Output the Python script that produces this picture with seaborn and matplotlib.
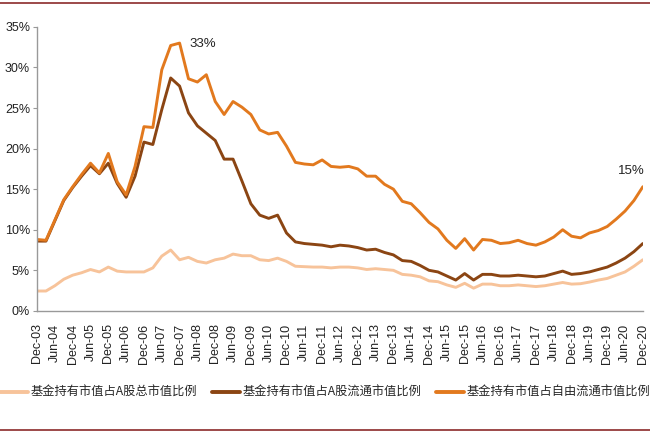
import numpy as np
import pandas as pd
import matplotlib
matplotlib.use("Agg")
import matplotlib.pyplot as plt
from matplotlib.lines import Line2D
import seaborn as sns

# quarterly dates Dec-03 .. Dec-20
quarters = []
for y in range(2003, 2021):
    for m in ["Mar", "Jun", "Sep", "Dec"]:
        if y == 2003 and m != "Dec":
            continue
        quarters.append(f"{m}-{str(y)[2:]}")

total_share = [2.45, 2.45, 3.1, 3.9, 4.4, 4.7, 5.1, 4.8, 5.4, 4.9, 4.8, 4.8, 4.8, 5.3,
               6.75, 7.5, 6.3, 6.6, 6.1, 5.9, 6.3, 6.5, 7.0, 6.8, 6.8, 6.3, 6.2, 6.5,
               6.1, 5.5, 5.45, 5.4, 5.4, 5.3, 5.4, 5.4, 5.3, 5.1, 5.2, 5.1, 5.0, 4.5,
               4.4, 4.2, 3.7, 3.6, 3.2, 2.9, 3.4, 2.8, 3.3, 3.3, 3.1, 3.1, 3.2, 3.1,
               3.0, 3.1, 3.3, 3.5, 3.3, 3.35, 3.55, 3.8, 4.0, 4.4, 4.8, 5.5, 6.3]

float_share = [8.6, 8.6, 11.1, 13.6, 15.2, 16.6, 17.9, 16.9, 18.2, 15.7, 14.0, 16.6, 20.8, 20.5,
               24.8, 28.7, 27.7, 24.4, 22.8, 21.9, 21.0, 18.7, 18.7, 16.0, 13.2, 11.8, 11.4, 11.8,
               9.6, 8.5, 8.3, 8.2, 8.1, 7.9, 8.1, 8.0, 7.8, 7.5, 7.6, 7.2, 6.9, 6.2,
               6.1, 5.6, 5.0, 4.8, 4.3, 3.8, 4.6, 3.8, 4.5, 4.5, 4.3, 4.3, 4.4, 4.3,
               4.2, 4.3, 4.6, 4.9, 4.5, 4.6, 4.8, 5.1, 5.4, 5.9, 6.5, 7.3, 8.3]

freefloat_share = [8.8, 8.7, 11.2, 13.7, 15.3, 16.8, 18.2, 17.0, 19.4, 15.9, 14.3, 17.8, 22.7, 22.6,
                   29.7, 32.7, 33.0, 28.6, 28.2, 29.1, 25.8, 24.2, 25.8, 25.1, 24.2, 22.3, 21.8, 22.0,
                   20.3, 18.3, 18.1, 18.0, 18.6, 17.8, 17.7, 17.8, 17.5, 16.6, 16.6, 15.6, 15.0, 13.5,
                   13.2, 12.1, 10.9, 10.1, 8.7, 7.7, 8.9, 7.5, 8.8, 8.7, 8.3, 8.4, 8.7, 8.3,
                   8.1, 8.5, 9.1, 10.0, 9.2, 9.0, 9.6, 9.9, 10.4, 11.3, 12.3, 13.6, 15.3]

series_names = ["基金持有市值占A股总市值比例", "基金持有市值占A股流通市值比例", "基金持有市值占自由流通市值比例"]
series_colors = ["#F7C39A", "#8B4513", "#E2791E"]

yticks = [0, 5, 10, 15, 20, 25, 30, 35]
annotations = [("33%", 18.6, 32.9), ("15%", 66.7, 17.2)]

n = len(quarters)
df = pd.DataFrame({
    "idx": np.tile(np.arange(n), 3),
    "value": total_share + float_share + freefloat_share,
    "series": np.repeat(series_names, n),
})

sns.set_theme(style="white")
plt.rcParams["font.family"] = ["Liberation Sans", "Noto Sans CJK SC", "DejaVu Sans"]

fig = plt.figure(figsize=(6.5, 4.33), dpi=100)
ax = fig.add_axes([0.057, 0.282, 0.932, 0.656])

sns.lineplot(data=df, x="idx", y="value", hue="series", hue_order=series_names,
             palette=dict(zip(series_names, series_colors)), linewidth=2.1, ax=ax,
             legend=False)

ax.set_xlim(0, n - 1)
ax.set_ylim(0, 35)
ax.set_yticks(yticks)
ax.set_yticklabels([f"{t}%" for t in yticks], fontsize=9, color="#222222")
ax.set_xticks(np.arange(0, n, 2))
ax.set_xticklabels(quarters[::2], rotation=90, fontsize=9, color="#222222")
ax.set_xlabel("")
ax.set_ylabel("")
for s in ["top", "right"]:
    ax.spines[s].set_visible(False)
for s in ["left", "bottom"]:
    ax.spines[s].set_color("#999999")
    ax.spines[s].set_linewidth(1.0)
ax.tick_params(axis="y", which="both", left=True, length=3, width=0.8, color="#999999", pad=2)
ax.tick_params(axis="x", which="both", bottom=False, pad=3)
ax.grid(False)

for txt, xi, yi in annotations:
    ax.text(xi, yi, txt, fontsize=9.5, color="#222222", ha="center", va="center")

handles = [Line2D([0], [0], color=c, lw=2.8) for c in series_colors]
fig.legend(handles, series_names, loc="center", bbox_to_anchor=(0.5, 0.093), ncol=3,
           frameon=False, handlelength=2.3, handletextpad=0.2, columnspacing=1.2,
           borderpad=0.1, borderaxespad=0.0,
           prop={"family": ["Noto Sans CJK SC", "DejaVu Sans"], "size": 8.8})

fig.add_artist(Line2D([0, 1], [0.993, 0.993], color="#8B2A2A", lw=1.2, transform=fig.transFigure))
fig.add_artist(Line2D([0, 1], [0.007, 0.007], color="#8B2A2A", lw=1.2, transform=fig.transFigure))

fig.savefig("out.png", dpi=100, facecolor="white")
